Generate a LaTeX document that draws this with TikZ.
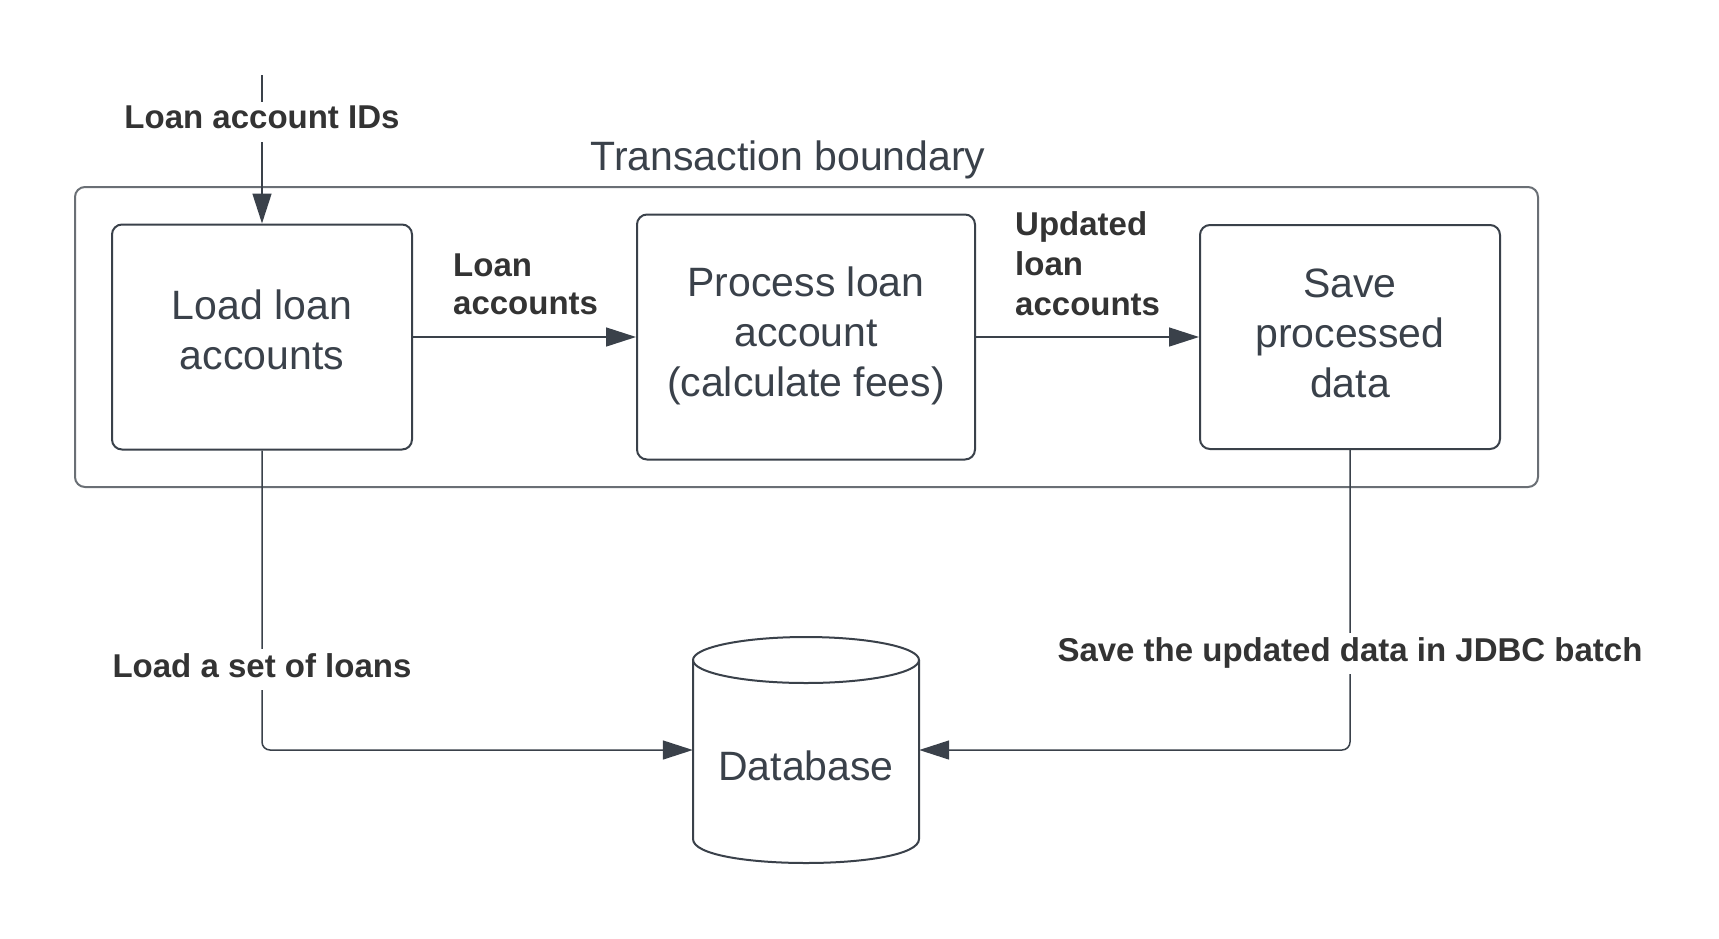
\documentclass[tikz,border=0pt]{standalone}
\usepackage{fontspec}
\setmainfont{Liberation Sans}
\usetikzlibrary{arrows.meta,calc}
\definecolor{ink}{HTML}{3A414A}
\definecolor{lbl}{HTML}{333333}
\definecolor{frame}{HTML}{6A6F75}
\begin{document}
\begin{tikzpicture}[x=1pt,y=-1pt,
  stepbox/.style={draw=ink,line width=2pt,rounded corners=10pt,inner sep=0pt,fill=white},
  boxtxt/.style={text=ink,align=center,inner sep=0pt,font=\fontsize{41}{50}\selectfont},
  conn/.style={draw=ink,line width=1.5pt,-{Triangle[length=30pt,width=19pt]}},
  lab/.style={text=lbl,inner sep=0pt,font=\bfseries\fontsize{33}{38}\selectfont},
  gaplab/.style={lab,fill=white,inner xsep=3pt,inner ysep=4pt,text depth=9pt}]
\useasboundingbox[fill=white] (0,0) rectangle (1719,938);
% transaction boundary
\node[draw=frame,line width=2pt,rounded corners=10pt,minimum width=1463pt,minimum height=300pt,inner sep=0pt] (tb) at (806.5,337) {};
\node[text=ink,inner sep=0pt,anchor=base,font=\fontsize{41}{50}\selectfont] (tbl) at (788,170) {Transaction boundary};
% boxes
\node[stepbox,minimum width=300pt,minimum height=225pt] (b1) at (262,337) {};
\node[stepbox,minimum width=338pt,minimum height=245pt] (b2) at (806,337) {};
\node[stepbox,minimum width=300pt,minimum height=224pt] (b3) at (1350,337) {};
\node[boxtxt] (t1) at (262,330.3) {Load loan\\accounts};
\node[boxtxt] (t2) at (806,335.6) {Process loan\\account\\(calculate fees)};
\node[boxtxt] (t3) at (1350,333) {Save\\processed\\data};
% database
\node[inner sep=0pt,minimum width=226pt,minimum height=226pt] (db) at (806,750) {};
\draw[ink,line width=2pt] (693,660) -- (693,839) .. controls (693,871) and (919,871) .. (919,839) -- (919,660);
\draw[ink,line width=2pt] (806,660) ellipse [x radius=113pt,y radius=23pt];
\node[text=ink,inner sep=0pt,anchor=base,font=\fontsize{41}{50}\selectfont] (tdb) at (806,780) {Database};
% connectors
\coordinate (in) at (262,75);
\draw[conn] (in) -- (b1.north);
\draw[conn] (b1.east) -- (b2.west);
\draw[conn] (b2.east) -- (b3.west);
\draw[conn,rounded corners=8pt] (b1.south) |- (db.west);
\draw[conn,rounded corners=8pt] (b3.south) |- (db.east);
% labels
\node[gaplab,anchor=base,inner ysep=3pt,text depth=11pt] (l0) at (262,128) {Loan account IDs};
\node[lab,align=left,anchor=west] (l1) at (453,284.2) {Loan\\accounts};
\node[lab,align=left,anchor=west,font=\bfseries\fontsize{33}{40}\selectfont] (l2) at (1015,264) {Updated\\loan\\accounts};
\node[gaplab,anchor=base] (l3) at (262,677) {Load a set of loans};
\node[gaplab,anchor=base] (l4) at (1350,661) {Save the updated data in JDBC batch};
\end{tikzpicture}
\end{document}
